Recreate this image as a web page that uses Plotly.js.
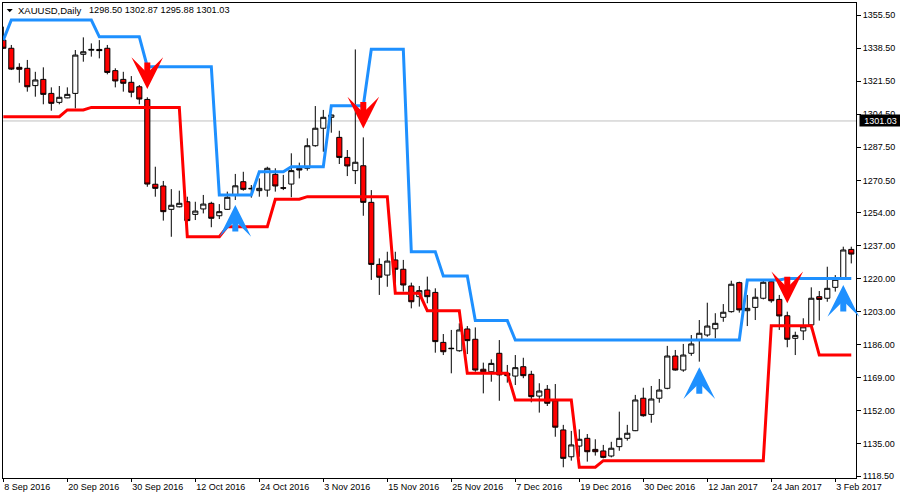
<!DOCTYPE html>
<html><head><meta charset="utf-8">
<script src="https://cdn.plot.ly/plotly-3.0.1.min.js"></script>
<style>html,body{margin:0;padding:0;background:#fff}#chart{width:900px;height:500px}</style>
</head><body><div id="chart"></div>
<script>
// ---- categories (trading days) ----
const dates = [
'2016-09-08','2016-09-09','2016-09-12','2016-09-13','2016-09-14','2016-09-15','2016-09-16','2016-09-19','2016-09-20','2016-09-21',
'2016-09-22','2016-09-23','2016-09-26','2016-09-27','2016-09-28','2016-09-29','2016-09-30','2016-10-03','2016-10-04','2016-10-05',
'2016-10-06','2016-10-07','2016-10-10','2016-10-11','2016-10-12','2016-10-13','2016-10-14','2016-10-17','2016-10-18','2016-10-19',
'2016-10-20','2016-10-21','2016-10-24','2016-10-25','2016-10-26','2016-10-27','2016-10-28','2016-10-31','2016-11-01','2016-11-02',
'2016-11-03','2016-11-04','2016-11-07','2016-11-08','2016-11-09','2016-11-10','2016-11-11','2016-11-14','2016-11-15','2016-11-16',
'2016-11-17','2016-11-18','2016-11-21','2016-11-22','2016-11-23','2016-11-24','2016-11-25','2016-11-28','2016-11-29','2016-11-30',
'2016-12-01','2016-12-02','2016-12-05','2016-12-06','2016-12-07','2016-12-08','2016-12-09','2016-12-12','2016-12-13','2016-12-14',
'2016-12-15','2016-12-16','2016-12-19','2016-12-20','2016-12-21','2016-12-22','2016-12-23','2016-12-27','2016-12-28','2016-12-29',
'2016-12-30','2017-01-03','2017-01-04','2017-01-05','2017-01-06','2017-01-09','2017-01-10','2017-01-11','2017-01-12','2017-01-13',
'2017-01-16','2017-01-17','2017-01-18','2017-01-19','2017-01-20','2017-01-23','2017-01-24','2017-01-25','2017-01-26','2017-01-27',
'2017-01-30','2017-01-31','2017-02-01','2017-02-02','2017-02-03','2017-02-06','2017-02-07'];

// ---- OHLC series ----
const open = [
1342.6,1338.4,1328.6,1328.1,1319.2,1322.4,1315.2,1310.6,1312.9,1315.2,
1335.3,1337.4,1337.8,1338.4,1326.9,1322.4,1320.9,1318.6,1312.1,1268.5,
1267.6,1255.6,1256.9,1259.5,1253.0,1255.8,1258.7,1252.3,1255.6,1262.9,
1269.8,1266.4,1265.2,1265.5,1273.6,1266.7,1268.6,1276.7,1276.7,1288.3,
1297.3,1302.9,1292.6,1282.3,1275.5,1278.0,1259.2,1227.3,1221.8,1229.6,
1224.8,1216.2,1210.7,1214.1,1212.9,1187.2,1184.2,1182.9,1194.1,1188.8,
1173.4,1172.1,1181.6,1171.3,1169.9,1174.7,1170.8,1159.6,1163.1,1157.2,
1142.2,1128.4,1133.9,1137.9,1132.2,1131.4,1128.8,1133.6,1137.9,1141.8,
1158.5,1150.2,1158.5,1163.6,1180.2,1173.0,1181.6,1188.4,1191.0,1194.2,
1200.1,1203.0,1217.9,1203.5,1205.2,1209.9,1218.4,1209.3,1200.9,1189.3,
1193.1,1196.2,1210.7,1209.9,1215.5,1220.1,1235.0];
const high = [
1349.5,1340.1,1330.7,1332.4,1326.3,1328.6,1318.3,1319.0,1318.3,1337.5,
1344.0,1340.9,1342.6,1340.1,1328.1,1326.3,1324.1,1319.5,1313.2,1277.5,
1270.2,1266.0,1265.2,1262.1,1259.5,1263.0,1259.5,1258.3,1264.7,1273.8,
1274.9,1268.1,1271.5,1277.5,1276.7,1273.3,1284.4,1279.6,1292.1,1308.7,
1306.7,1304.6,1296.0,1286.1,1337.8,1292.6,1265.5,1230.4,1233.8,1233.8,
1229.6,1217.9,1216.2,1221.0,1215.0,1191.5,1193.6,1197.0,1195.6,1194.9,
1176.8,1178.5,1188.4,1175.6,1180.7,1179.3,1172.6,1166.2,1165.3,1165.8,
1144.8,1141.7,1142.5,1140.1,1137.4,1134.5,1136.1,1151.6,1144.8,1160.2,
1163.9,1164.8,1168.4,1185.4,1183.3,1186.4,1191.0,1198.7,1207.6,1202.2,
1206.9,1218.9,1218.4,1211.6,1215.0,1219.3,1219.6,1211.6,1203.0,1192.7,
1199.6,1215.5,1213.6,1226.1,1221.8,1236.4,1236.4];
const low = [
1338.0,1327.2,1320.7,1316.1,1313.5,1309.6,1306.3,1309.6,1312.7,1307.5,
1331.5,1334.1,1333.2,1325.0,1318.3,1316.1,1313.2,1309.6,1267.2,1262.1,
1249.8,1241.5,1256.6,1249.2,1250.1,1253.5,1246.4,1250.6,1255.3,1260.4,
1265.2,1261.6,1262.1,1262.1,1264.7,1265.5,1261.8,1271.5,1275.5,1287.8,
1285.2,1295.0,1278.9,1272.7,1268.6,1252.3,1219.3,1211.6,1215.8,1217.6,
1213.3,1204.7,1205.6,1207.3,1181.9,1180.7,1171.3,1182.4,1181.2,1172.1,
1161.0,1167.0,1157.2,1166.5,1165.3,1168.8,1156.4,1151.1,1154.5,1138.7,
1123.0,1126.4,1128.4,1125.9,1129.0,1127.6,1128.1,1131.5,1136.7,1141.6,
1149.0,1145.9,1156.2,1163.1,1172.7,1172.1,1180.3,1177.3,1190.1,1189.3,
1197.8,1202.5,1202.5,1195.6,1198.7,1209.3,1207.6,1193.6,1184.7,1180.7,
1188.4,1193.9,1198.4,1208.1,1213.3,1219.6,1227.8];
const close = [
1338.4,1327.7,1327.6,1318.6,1322.1,1314.7,1310.1,1313.2,1314.7,1334.9,
1336.6,1337.8,1337.2,1326.0,1321.6,1320.4,1315.8,1312.3,1268.6,1266.4,
1254.4,1257.7,1258.7,1249.8,1254.7,1258.3,1251.0,1254.4,1261.8,1267.7,
1265.9,1266.2,1266.4,1276.7,1267.6,1266.5,1275.5,1275.8,1288.3,1297.3,
1302.9,1304.1,1282.3,1277.9,1279.8,1259.2,1227.3,1220.7,1229.0,1224.8,
1216.7,1208.1,1213.8,1210.7,1187.6,1182.4,1184.0,1193.6,1188.1,1173.0,
1172.1,1176.4,1170.5,1170.1,1174.2,1170.1,1159.3,1162.2,1155.9,1143.6,
1127.6,1134.5,1137.4,1131.0,1131.0,1128.1,1132.8,1137.9,1140.5,1157.6,
1149.5,1158.1,1162.7,1180.2,1173.0,1180.7,1186.4,1191.9,1195.6,1197.0,
1202.7,1217.1,1203.9,1204.7,1210.4,1218.1,1208.6,1200.8,1188.8,1190.8,
1195.2,1209.9,1209.3,1215.0,1219.6,1234.7,1232.6];

// ---- channel lines (blue upper, red lower) ----
const upperLine = [
1342.6,1352.9,1352.9,1352.9,1352.9,1352.9,1352.9,1352.9,1352.9,1352.9,
1352.9,1352.9,1344.3,1344.3,1344.3,1344.3,1344.3,1344.3,1328.9,1328.9,
1328.9,1328.9,1328.9,1328.9,1328.9,1328.9,1328.9,1263.0,1263.0,1263.0,
1263.0,1263.0,1274.9,1274.9,1274.9,1274.9,1277.5,1277.5,1277.5,1277.5,
1277.5,1308.9,1308.9,1308.9,1308.9,1308.9,1337.9,1337.9,1337.9,1337.9,
1337.9,1233.8,1233.8,1233.8,1233.8,1221.3,1221.3,1221.3,1221.3,1198.4,
1198.4,1198.4,1198.4,1198.4,1188.4,1188.4,1188.4,1188.4,1188.4,1188.4,
1188.4,1188.4,1188.4,1188.4,1188.4,1188.4,1188.4,1188.4,1188.4,1188.4,
1188.4,1188.4,1188.4,1188.4,1188.4,1188.4,1188.4,1188.4,1188.4,1188.4,
1188.4,1188.4,1188.4,1219.3,1219.3,1219.3,1219.3,1219.3,1220.1,1220.1,
1220.1,1220.1,1220.1,1220.1,1220.1,1220.1,1220.1];
const lowerLine = [
1303.2,1303.2,1303.2,1303.2,1303.2,1303.2,1303.2,1303.2,1306.7,1306.7,
1306.7,1308.0,1308.0,1308.0,1308.0,1308.0,1308.0,1308.0,1308.0,1308.0,
1308.0,1308.0,1308.0,1241.5,1241.5,1241.5,1241.5,1241.5,1246.7,1246.7,
1246.7,1246.7,1246.7,1246.7,1260.8,1260.8,1260.8,1260.8,1262.1,1262.1,
1262.1,1262.1,1262.1,1262.1,1262.1,1262.1,1262.1,1262.1,1262.1,1212.4,
1212.4,1212.4,1212.4,1203.5,1203.5,1203.5,1203.5,1203.5,1171.3,1171.3,
1171.3,1171.3,1171.3,1171.3,1157.6,1157.6,1157.6,1157.6,1157.6,1157.6,
1157.6,1157.6,1123.0,1123.0,1123.0,1126.4,1126.4,1126.4,1126.4,1126.4,
1126.4,1126.4,1126.4,1126.4,1126.4,1126.4,1126.4,1126.4,1126.4,1126.4,
1126.4,1126.4,1126.4,1126.4,1126.4,1126.4,1195.8,1195.8,1195.8,1195.8,
1195.8,1195.8,1180.7,1180.7,1180.7,1180.7,1180.7];

// ---- signal arrows ----
const sellBars = [18, 45, 98];
const sellTips = [1317.5, 1297.2, 1207.3];
const buyBars = [29, 87, 105];
const buyTips = [1257.8, 1174.4, 1216.7];

// ---- axis ticks ----
const tickDates = ['2016-09-08','2016-09-20','2016-09-30','2016-10-12','2016-10-24','2016-11-03','2016-11-15','2016-11-25','2016-12-07','2016-12-19','2016-12-30','2017-01-12','2017-01-24','2017-02-03'];
const tickLabels = ['8 Sep 2016','20 Sep 2016','30 Sep 2016','12 Oct 2016','24 Oct 2016','3 Nov 2016','15 Nov 2016','25 Nov 2016','7 Dec 2016','19 Dec 2016','30 Dec 2016','12 Jan 2017','24 Jan 2017','3 Feb 2017'];
const priceTicks = [1355.5,1338.5,1321.5,1304.5,1287.5,1270.5,1254,1237,1220,1203,1186,1169,1152,1135,1118.5];
const priceTickText = ['1355.50','1338.50','1321.50','1304.50','1287.50','1270.50','1254.00','1237.00','1220.00','1203.00','1186.00','1169.00','1152.00','1135.00','1118.50'];

const symbolName = 'XAUUSD,Daily';
const ohlcText = '1298.50 1302.87 1295.88 1301.03';
const lastPrice = 1301.03;

const FONT = 'Liberation Sans, Arial, sans-serif';

const traces = [
  {type:'candlestick', x:dates, open:open, high:high, low:low, close:close,
   increasing:{line:{color:'#000000', width:1}, fillcolor:'#ffffff'},
   decreasing:{line:{color:'#000000', width:1}, fillcolor:'#ff0000'},
   whiskerwidth:0, hoverinfo:'skip', showlegend:false},
  {type:'scatter', mode:'lines', x:dates, y:upperLine, line:{color:'#1e90ff', width:3}, hoverinfo:'skip', showlegend:false},
  {type:'scatter', mode:'lines', x:dates, y:lowerLine, line:{color:'#ff0000', width:3}, hoverinfo:'skip', showlegend:false}
];

const annotations = [];
sellBars.forEach((b, j) => annotations.push({
  x: dates[b], y: sellTips[j], xref:'x', yref:'y', text:'', showarrow:true,
  arrowhead:3, arrowsize:0.88, arrowwidth:6, arrowcolor:'#ff0000', ax:0, ay:-28, font:{size:1}
}));
buyBars.forEach((b, j) => annotations.push({
  x: dates[b], y: buyTips[j], xref:'x', yref:'y', text:'', showarrow:true,
  arrowhead:3, arrowsize:0.88, arrowwidth:6, arrowcolor:'#1e90ff', ax:0, ay:28, font:{size:1}
}));
annotations.push({xref:'paper', yref:'paper', x:0.0155, y:0.9844, xanchor:'left', yanchor:'middle',
  text:symbolName, showarrow:false, font:{family:FONT, size:9.5, color:'#000'}});
annotations.push({xref:'paper', yref:'paper', x:0.0988, y:0.9844, xanchor:'left', yanchor:'middle',
  text:ohlcText, showarrow:false, font:{family:FONT, size:9.2, color:'#000'}});
annotations.push({xref:'paper', yref:'y', x:1, xshift:3, y:lastPrice, xanchor:'left', yanchor:'middle',
  text:String(lastPrice.toFixed(2)), showarrow:false, bgcolor:'#000000', borderpad:0, width:41, height:11,
  align:'center', font:{family:FONT, size:9, color:'#ffffff'}});

const layout = {
  width:900, height:500,
  margin:{l:3, r:44, t:3, b:22, pad:0},
  paper_bgcolor:'#ffffff', plot_bgcolor:'#ffffff',
  showlegend:false,
  font:{family:FONT, size:9, color:'#000000'},
  boxgap:0.2, boxgroupgap:0.2,
  xaxis:{type:'category', range:[-0.04, 106.59], rangeslider:{visible:false},
    tickmode:'array', tickvals:tickDates, ticktext:tickLabels,
    ticks:'outside', ticklen:3, tickcolor:'#000', tickwidth:1,
    showgrid:false, zeroline:false, showline:true, linecolor:'#000', linewidth:1, mirror:true,
    ticklabelposition:'outside right', tickfont:{family:FONT, size:9, color:'#000'}, fixedrange:true},
  yaxis:{side:'right', range:[1117.49, 1361.67], tickmode:'array', tickvals:priceTicks, ticktext:priceTickText,
    ticks:'outside', ticklen:4, tickcolor:'#000', tickwidth:1,
    showgrid:false, zeroline:false, showline:true, linecolor:'#000', linewidth:1, mirror:true,
    tickfont:{family:FONT, size:9, color:'#000'}, fixedrange:true},
  shapes:[
    {type:'line', xref:'paper', x0:0, x1:1, yref:'y', y0:lastPrice, y1:lastPrice, line:{color:'#c0c0c0', width:1}, layer:'below'},
    {type:'path', xref:'paper', yref:'paper', path:'M 0.0043 0.9874 L 0.0114 0.9874 L 0.0079 0.9804 Z', fillcolor:'#000', line:{width:0}}
  ],
  annotations:annotations
};

Plotly.newPlot('chart', traces, layout, {displayModeBar:false, staticPlot:true});
</script>
</body></html>
